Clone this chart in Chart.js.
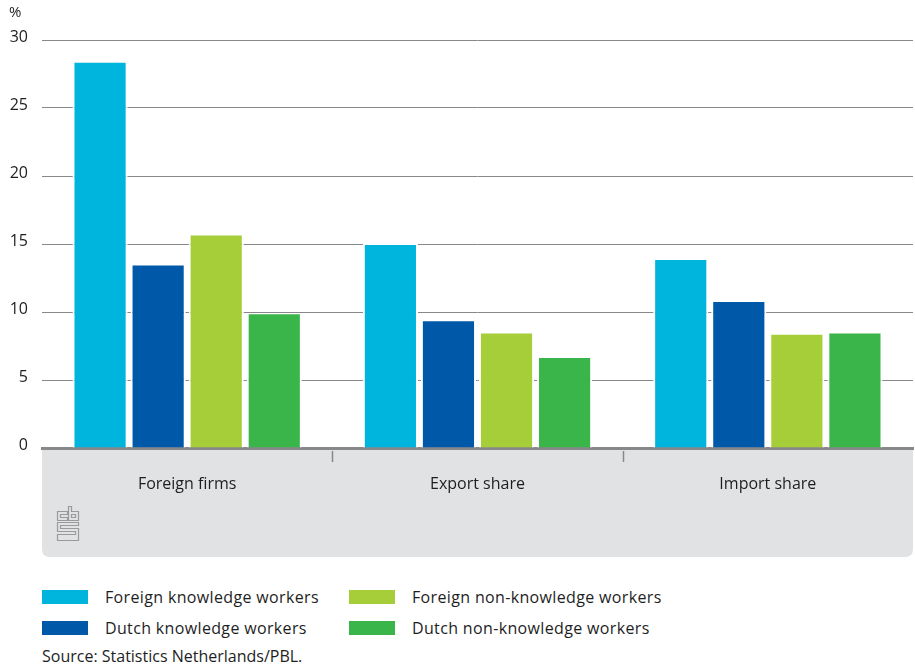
<!DOCTYPE html>
<html>
<head>
<meta charset="utf-8">
<script src="https://cdn.jsdelivr.net/npm/chart.js@4"></script>
<style>
  body { margin: 0; background: #fff; font-family: "Open Sans", sans-serif; color: #1e1e1e; }
  #wrap { position: relative; width: 915px; height: 670px; }
  #chart { position: absolute; left: 0; top: 0; }
  .legend-item { position: absolute; font-size: 16px; line-height: 20px; }
  .legend-item span.sw { position: absolute; left: 0; top: 3px; width: 46px; height: 14px; }
  .legend-item span.lb { position: absolute; left: 63px; top: 0; white-space: nowrap; letter-spacing: 0.35px; }
  #source { position: absolute; left: 42px; top: 646px; font-size: 16px; line-height: 20px; }
</style>
</head>
<body>
<div id="wrap">
  <canvas id="chart" width="915" height="560"></canvas>
  <div id="legend"></div>
  <div id="source">Source: Statistics Netherlands/PBL.</div>
</div>
<script>
// Data
const categories = ['Foreign firms', 'Export share', 'Import share'];
const seriesNames = ['Foreign knowledge workers', 'Dutch knowledge workers', 'Foreign non-knowledge workers', 'Dutch non-knowledge workers'];
const foreignKnowledge = [28.4, 15.0, 13.9];
const dutchKnowledge = [13.5, 9.4, 10.8];
const foreignNonKnowledge = [15.7, 8.5, 8.4];
const dutchNonKnowledge = [9.9, 6.7, 8.5];
const yTicks = [0, 5, 10, 15, 20, 25, 30];

const colors = ['#00b5dd', '#0058a8', '#a6ce39', '#3ab54a'];
const gridColor = '#88888b';
const textColor = '#1e1e1e';
const font = '"Open Sans", sans-serif';

// Grey band under the x axis, tick marks, % label and logo
const decorations = {
    id: 'decorations',
    beforeDraw(chart) {
        const ctx = chart.ctx;
        const area = chart.chartArea;
        const x = chart.scales.x;
        const r = 8;
        const top = area.bottom, bottom = x.bottom, left = area.left, right = area.right;
        ctx.save();
        ctx.fillStyle = '#e1e2e4';
        ctx.beginPath();
        ctx.moveTo(left, top);
        ctx.lineTo(right, top);
        ctx.lineTo(right, bottom - r);
        ctx.quadraticCurveTo(right, bottom, right - r, bottom);
        ctx.lineTo(left + r, bottom);
        ctx.quadraticCurveTo(left, bottom, left, bottom - r);
        ctx.closePath();
        ctx.fill();
        ctx.restore();
    },
    afterDraw(chart) {
        const ctx = chart.ctx;
        const area = chart.chartArea;
        const x = chart.scales.x;
        ctx.save();
        // separators between categories
        ctx.strokeStyle = gridColor;
        ctx.lineWidth = 1.5;
        for (let i = 1; i < categories.length; i++) {
            const px = Math.round((x.getPixelForValue(i - 1) + x.getPixelForValue(i)) / 2) + 0.5;
            ctx.beginPath();
            ctx.moveTo(px, area.bottom + 3);
            ctx.lineTo(px, area.bottom + 14);
            ctx.stroke();
        }
        // unit label
        ctx.fillStyle = textColor;
        ctx.font = '15px ' + font;
        ctx.textBaseline = 'middle';
        ctx.fillText('%', 9, 13);
        // small cbs logo
        const lx = area.left + 15.5, ly = area.bottom + 58.5;
        const shapes = [
            [[10, 5], [0, 5], [0, 14], [10, 14], [10, 11], [3, 11], [3, 8], [10, 8]],
            [[11, 0], [14, 0], [14, 5], [21, 5], [21, 14], [11, 14]],
            [[14, 8], [18, 8], [18, 11], [14, 11]],
            [[21, 16], [0, 16], [0, 25], [18, 25], [18, 28], [0, 28], [0, 34], [21, 34], [21, 22], [3, 22], [3, 19], [21, 19]]
        ];
        ctx.strokeStyle = '#9a9a9c';
        ctx.lineWidth = 1.2;
        for (const pts of shapes) {
            ctx.beginPath();
            pts.forEach((p, i) => i === 0 ? ctx.moveTo(lx + p[0], ly + p[1]) : ctx.lineTo(lx + p[0], ly + p[1]));
            ctx.closePath();
            ctx.stroke();
        }
        ctx.restore();
    }
};

function makeDataset(label, data, color) {
    return {
        label: label,
        data: data,
        backgroundColor: color,
        borderColor: '#ffffff',
        borderWidth: { top: 1, left: 2, right: 2, bottom: 0 },
        borderSkipped: false,
        barPercentage: 0.95,
        categoryPercentage: 0.8
    };
}

const allSeries = [foreignKnowledge, dutchKnowledge, foreignNonKnowledge, dutchNonKnowledge];

new Chart(document.getElementById('chart').getContext('2d'), {
    type: 'bar',
    data: {
        labels: categories,
        datasets: allSeries.map((s, i) => makeDataset(seriesNames[i], s, colors[i]))
    },
    options: {
        responsive: false,
        animation: false,
        layout: { padding: { top: 40, right: 2, bottom: 3, left: 0 } },
        plugins: { legend: { display: false }, tooltip: { enabled: false } },
        scales: {
            x: {
                grid: { display: false },
                border: { display: true, color: gridColor, width: 3 },
                ticks: { color: textColor, font: { family: font, size: 16 }, padding: 19 },
                afterFit(scale) { scale.height = 109; }
            },
            y: {
                min: 0,
                max: 30,
                afterBuildTicks(scale) { scale.ticks = yTicks.map(v => ({ value: v })); },
                grid: { color: gridColor, lineWidth: 1, drawTicks: false },
                border: { display: false },
                ticks: { color: textColor, font: { family: font, size: 16 }, padding: 14, labelOffset: -3 },
                afterFit(scale) { scale.width = 42; }
            }
        }
    },
    plugins: [decorations]
});

// HTML legend in two columns
function buildLegend() {
    const legend = document.getElementById('legend');
    const colX = [42, 349];
    const rowY = [587, 618];
    seriesNames.forEach((name, i) => {
        const item = document.createElement('div');
        item.className = 'legend-item';
        item.style.left = colX[Math.floor(i / 2)] + 'px';
        item.style.top = rowY[i % 2] + 'px';
        item.innerHTML = '<span class="sw" style="background:' + colors[i] + '"></span><span class="lb">' + name + '</span>';
        legend.appendChild(item);
    });
}
buildLegend();
</script>
</body>
</html>
